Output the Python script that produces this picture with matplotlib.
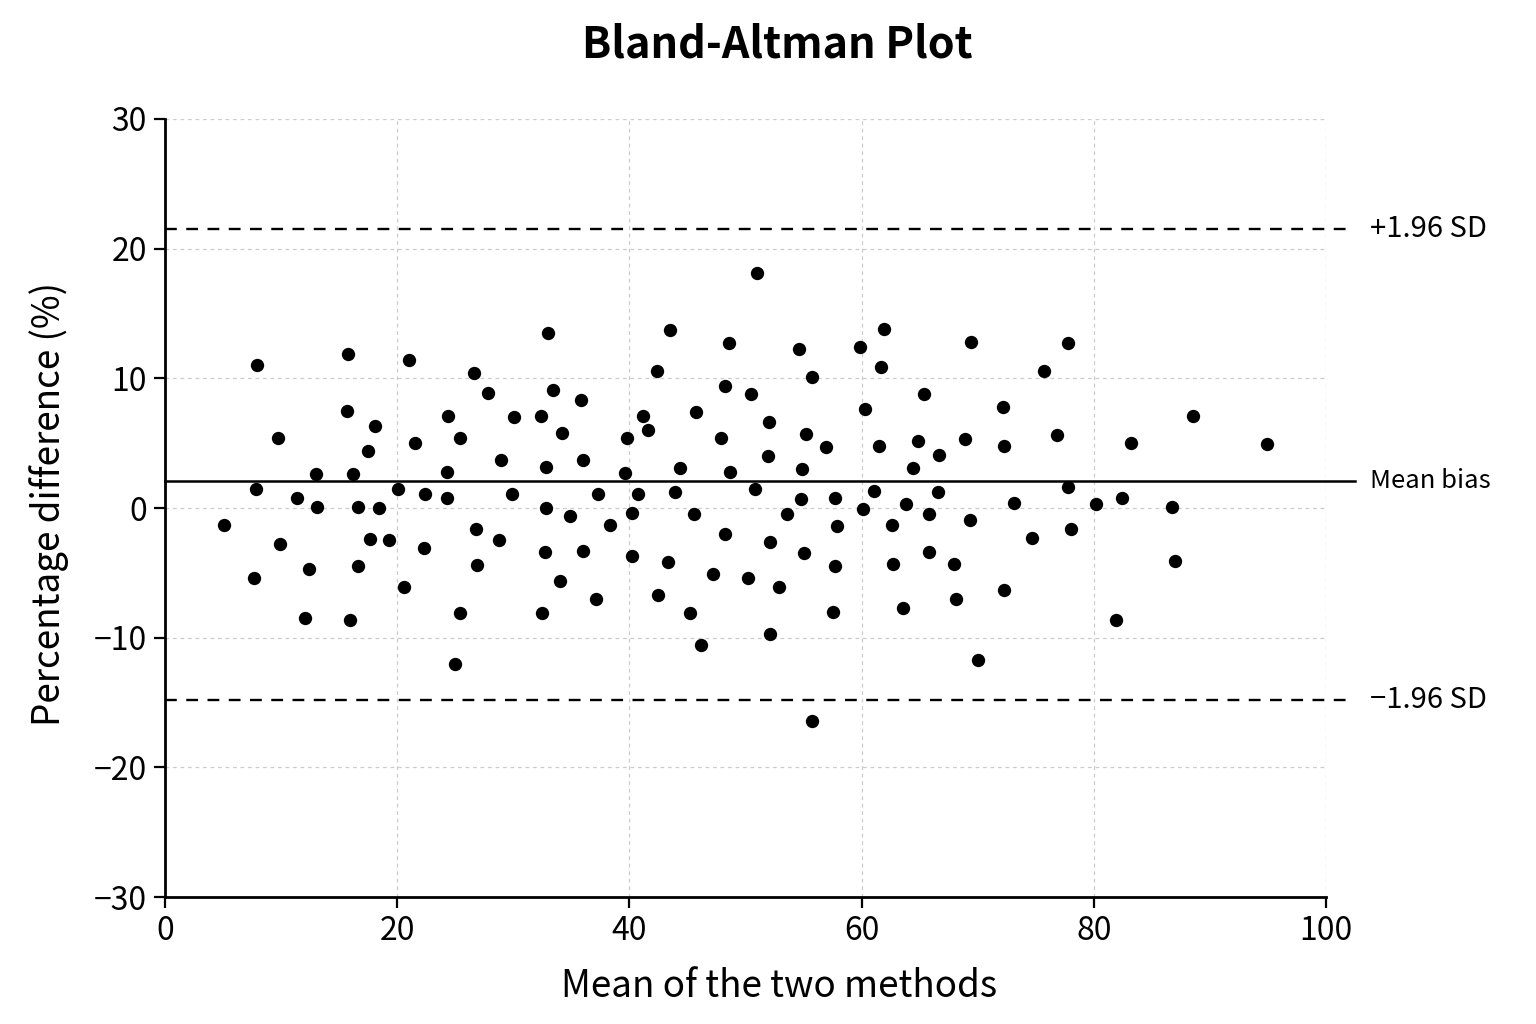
import numpy as np
import matplotlib
matplotlib.use("Agg")
import matplotlib.pyplot as plt

# mean of the two methods (x) and percentage difference (y)
mean_vals = [5.1, 7.9, 7.8, 7.7, 9.7, 9.9, 11.4, 12.4, 12.1, 13.0,
             13.1, 15.8, 15.7, 16.2, 15.9, 16.6, 16.6, 17.5, 18.1, 17.7,
             18.4, 19.3, 20.1, 20.6, 21.0, 21.5, 22.3, 22.4, 24.4, 24.3,
             24.3, 25.0, 25.4, 25.4, 26.6, 26.8, 26.9, 27.8, 28.9, 28.8,
             29.9, 30.1, 32.4, 32.5, 33.0, 32.8, 32.8, 32.7, 33.4, 34.2,
             34.0, 34.9, 35.8, 36.0, 36.0, 37.1, 37.3, 38.3, 39.6, 39.8,
             40.2, 40.2, 40.7, 41.2, 41.6, 42.4, 42.5, 43.3, 43.5, 43.9,
             44.4, 45.2, 45.7, 45.6, 46.2, 47.2, 47.9, 48.2, 48.2, 48.6,
             48.7, 50.5, 50.2, 51.0, 50.8, 51.9, 52.0, 52.1, 52.1, 52.9,
             53.6, 54.6, 54.8, 54.9, 55.2, 55.0, 55.7, 55.7, 56.9, 57.7,
             57.9, 57.7, 57.5, 59.9, 60.3, 60.1, 61.1, 61.5, 61.7, 61.9,
             62.6, 62.7, 63.6, 63.8, 64.4, 64.9, 65.4, 65.8, 65.8, 66.6,
             66.7, 68.0, 68.1, 68.9, 69.3, 69.4, 70.0, 72.2, 72.3, 72.3,
             73.1, 74.7, 75.7, 76.8, 77.8, 77.8, 78.0, 80.2, 81.9, 82.4,
             83.2, 86.7, 87.0, 88.5, 94.9]
pct_diff = [-1.3, 11.0, 1.5, -5.4, 5.4, -2.8, 0.8, -4.7, -8.5, 2.6,
            0.1, 11.9, 7.5, 2.6, -8.6, 0.1, -4.5, 4.4, 6.3, -2.4,
            0.0, -2.5, 1.5, -6.1, 11.4, 5.0, -3.1, 1.1, 7.1, 2.8,
            0.8, -12.0, 5.4, -8.1, 10.4, -1.6, -4.4, 8.9, 3.7, -2.5,
            1.1, 7.0, 7.1, -8.1, 13.5, 3.2, 0.0, -3.4, 9.1, 5.8,
            -5.6, -0.6, 8.3, 3.7, -3.3, -7.0, 1.1, -1.3, 2.7, 5.4,
            -0.4, -3.7, 1.1, 7.1, 6.0, 10.6, -6.7, -4.2, 13.7, 1.2,
            3.1, -8.1, 7.4, -0.5, -10.6, -5.1, 5.4, -2.0, 9.4, 12.7,
            2.8, 8.8, -5.4, 18.1, 1.5, 4.0, 6.6, -9.7, -2.6, -6.1,
            -0.5, 12.3, 0.7, 3.0, 5.7, -3.5, 10.1, -16.4, 4.7, 0.8,
            -1.4, -4.5, -8.0, 12.4, 7.6, -0.1, 1.3, 4.8, 10.9, 13.8,
            -1.3, -4.3, -7.7, 0.3, 3.1, 5.2, 8.8, -3.4, -0.5, 1.2,
            4.1, -4.3, -7.0, 5.3, -0.9, 12.8, -11.7, 7.8, 4.8, -6.3,
            0.4, -2.3, 10.6, 5.6, 1.6, 12.7, -1.6, 0.3, -8.6, 0.8,
            5.0, 0.1, -4.1, 7.1, 4.9]

mean_bias = 2.1
upper_loa = 21.5
lower_loa = -14.8

x_ticks = [0, 20, 40, 60, 80, 100]
y_ticks = [-30, -20, -10, 0, 10, 20, 30]

gothic = ['Noto Sans CJK JP', 'DejaVu Sans']
plt.rcParams['font.family'] = gothic

fig = plt.figure(figsize=(15.36, 10.24), dpi=100)
ax = fig.add_axes([0.1074, 0.124, 0.7559, 0.7598])

ax.grid(True, color='#cccccc', linestyle=(0, (3, 3)), linewidth=0.9)
ax.set_axisbelow(True)

ax.scatter(mean_vals, pct_diff, s=92, color='black', zorder=3, linewidths=0)

x_end = 102.5
ax.plot([0, x_end], [mean_bias, mean_bias], color='black', lw=1.8, clip_on=False, zorder=2)
ax.plot([0, x_end], [upper_loa, upper_loa], color='black', lw=1.7,
        dashes=(5, 4), clip_on=False, zorder=2)
ax.plot([0, x_end], [lower_loa, lower_loa], color='black', lw=1.7,
        dashes=(5, 4), clip_on=False, zorder=2)

ax.text(103.8, upper_loa, '+1.96 SD', fontsize=21, va='center', ha='left')
ax.text(103.8, mean_bias, 'Mean bias', fontsize=18.5, va='center', ha='left')
ax.text(103.8, lower_loa, '\u22121.96 SD', fontsize=21, va='center', ha='left')

ax.set_xlim(0, 100)
ax.set_ylim(-30, 30)
ax.set_xticks(x_ticks)
ax.set_yticks(y_ticks)
ax.set_xticklabels([str(t) for t in x_ticks])
ax.set_yticklabels([str(t).replace('-', '\u2212') for t in y_ticks])
for lab in ax.get_xticklabels() + ax.get_yticklabels():
    lab.set_fontsize(23)

for s in ['top', 'right']:
    ax.spines[s].set_visible(False)
for s in ['left', 'bottom']:
    ax.spines[s].set_linewidth(2)
ax.tick_params(axis='both', length=8, width=1.6, pad=5)

ax.set_xlabel('Mean of the two methods', fontsize=26.5)
ax.set_ylabel('Percentage difference (%)', fontsize=26.5)
ax.xaxis.set_label_coords(0.529, -0.09)
ax.yaxis.set_label_coords(-0.083, 0.505)

fig.suptitle('Bland-Altman Plot', fontsize=31, fontweight='bold',
             x=0.506, y=0.978)

fig.savefig('out.png', dpi=100, facecolor='white')
